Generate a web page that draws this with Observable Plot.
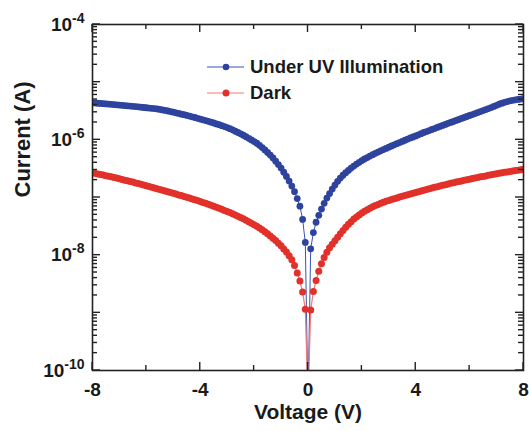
<!DOCTYPE html>
<html>
<head>
<meta charset="utf-8">
<script src="https://cdn.jsdelivr.net/npm/d3@7"></script>
<script src="https://cdn.jsdelivr.net/npm/@observablehq/plot@0.6"></script>
<style>
  html, body { margin: 0; padding: 0; background: #fff; }
  #chart { width: 529px; height: 431px; }
</style>
</head>
<body>
<div id="chart"></div>
<script>
// ---- Data ----
const voltage = [-8.0,-7.9,-7.8,-7.7,-7.6,-7.5,-7.4,-7.3,-7.2,-7.1,-7.0,-6.9,-6.8,-6.7,-6.6,-6.5,-6.4,-6.3,-6.2,-6.1,
  -6.0,-5.9,-5.8,-5.7,-5.6,-5.5,-5.4,-5.3,-5.2,-5.1,-5.0,-4.9,-4.8,-4.7,-4.6,-4.5,-4.4,-4.3,-4.2,-4.1,
  -4.0,-3.9,-3.8,-3.7,-3.6,-3.5,-3.4,-3.3,-3.2,-3.1,-3.0,-2.9,-2.8,-2.7,-2.6,-2.5,-2.4,-2.3,-2.2,-2.1,
  -2.0,-1.9,-1.8,-1.7,-1.6,-1.5,-1.4,-1.3,-1.2,-1.1,-1.0,-0.9,-0.8,-0.7,-0.6,-0.5,-0.4,-0.3,-0.2,-0.1,
  0.0,
  0.1,0.2,0.3,0.4,0.5,0.6,0.7,0.8,0.9,1.0,1.1,1.2,1.3,1.4,1.5,1.6,1.7,1.8,1.9,2.0,
  2.1,2.2,2.3,2.4,2.5,2.6,2.7,2.8,2.9,3.0,3.1,3.2,3.3,3.4,3.5,3.6,3.7,3.8,3.9,4.0,
  4.1,4.2,4.3,4.4,4.5,4.6,4.7,4.8,4.9,5.0,5.1,5.2,5.3,5.4,5.5,5.6,5.7,5.8,5.9,6.0,
  6.1,6.2,6.3,6.4,6.5,6.6,6.7,6.8,6.9,7.0,7.1,7.2,7.3,7.4,7.5,7.6,7.7,7.8,7.9,8.0];

const uvCurrent = [
  4.39e-6,4.35e-6,4.31e-6,4.28e-6,4.24e-6,4.20e-6,4.17e-6,4.13e-6,4.09e-6,4.05e-6,
  4.01e-6,3.96e-6,3.93e-6,3.89e-6,3.85e-6,3.81e-6,3.77e-6,3.73e-6,3.69e-6,3.64e-6,
  3.60e-6,3.56e-6,3.52e-6,3.48e-6,3.43e-6,3.37e-6,3.30e-6,3.23e-6,3.16e-6,3.09e-6,
  3.02e-6,2.94e-6,2.87e-6,2.79e-6,2.73e-6,2.65e-6,2.58e-6,2.51e-6,2.44e-6,2.36e-6,
  2.29e-6,2.22e-6,2.16e-6,2.09e-6,2.02e-6,1.96e-6,1.89e-6,1.83e-6,1.76e-6,1.70e-6,
  1.63e-6,1.56e-6,1.49e-6,1.41e-6,1.34e-6,1.27e-6,1.20e-6,1.13e-6,1.06e-6,9.95e-7,
  9.33e-7,8.72e-7,8.04e-7,7.34e-7,6.69e-7,6.03e-7,5.44e-7,4.85e-7,4.27e-7,3.72e-7,
  3.24e-7,2.75e-7,2.32e-7,1.93e-7,1.58e-7,1.26e-7,9.57e-8,7.08e-8,4.17e-8,1.66e-8,
  3e-11,
  1.29e-8,2.46e-8,3.72e-8,4.90e-8,6.31e-8,7.94e-8,9.77e-8,1.17e-7,1.40e-7,1.64e-7,
  1.91e-7,2.17e-7,2.43e-7,2.69e-7,2.95e-7,3.24e-7,3.51e-7,3.80e-7,4.07e-7,4.37e-7,
  4.65e-7,4.93e-7,5.23e-7,5.52e-7,5.83e-7,6.13e-7,6.45e-7,6.77e-7,7.10e-7,7.45e-7,
  7.82e-7,8.19e-7,8.58e-7,8.98e-7,9.40e-7,9.84e-7,1.03e-6,1.08e-6,1.12e-6,1.17e-6,
  1.22e-6,1.28e-6,1.34e-6,1.39e-6,1.45e-6,1.51e-6,1.57e-6,1.64e-6,1.71e-6,1.78e-6,
  1.85e-6,1.93e-6,2.00e-6,2.08e-6,2.17e-6,2.25e-6,2.35e-6,2.44e-6,2.54e-6,2.64e-6,
  2.74e-6,2.85e-6,2.97e-6,3.09e-6,3.21e-6,3.35e-6,3.49e-6,3.63e-6,3.80e-6,3.96e-6,
  4.15e-6,4.32e-6,4.47e-6,4.61e-6,4.74e-6,4.85e-6,4.95e-6,5.02e-6,5.10e-6,5.16e-6];

const darkCurrent = [
  2.68e-7,2.62e-7,2.56e-7,2.50e-7,2.45e-7,2.39e-7,2.34e-7,2.28e-7,2.22e-7,2.17e-7,
  2.11e-7,2.06e-7,2.00e-7,1.95e-7,1.90e-7,1.85e-7,1.79e-7,1.75e-7,1.70e-7,1.65e-7,
  1.60e-7,1.55e-7,1.51e-7,1.46e-7,1.42e-7,1.38e-7,1.34e-7,1.30e-7,1.26e-7,1.22e-7,
  1.19e-7,1.15e-7,1.11e-7,1.08e-7,1.04e-7,1.01e-7,9.79e-8,9.46e-8,9.14e-8,8.83e-8,
  8.53e-8,8.22e-8,7.92e-8,7.64e-8,7.35e-8,7.06e-8,6.79e-8,6.52e-8,6.25e-8,5.98e-8,
  5.73e-8,5.47e-8,5.23e-8,4.98e-8,4.74e-8,4.50e-8,4.27e-8,4.04e-8,3.81e-8,3.59e-8,
  3.37e-8,3.16e-8,2.95e-8,2.75e-8,2.55e-8,2.35e-8,2.16e-8,1.97e-8,1.79e-8,1.61e-8,
  1.45e-8,1.28e-8,1.13e-8,9.77e-9,8.32e-9,6.61e-9,4.90e-9,3.55e-9,2.29e-9,1.15e-9,
  3e-11,
  1.12e-9,2.35e-9,3.63e-9,5.25e-9,7.08e-9,9.12e-9,1.12e-8,1.34e-8,1.55e-8,1.78e-8,
  2.04e-8,2.36e-8,2.69e-8,3.05e-8,3.42e-8,3.81e-8,4.22e-8,4.61e-8,4.99e-8,5.37e-8,
  5.75e-8,6.14e-8,6.52e-8,6.89e-8,7.24e-8,7.59e-8,7.92e-8,8.26e-8,8.59e-8,8.91e-8,
  9.23e-8,9.53e-8,9.84e-8,1.02e-7,1.05e-7,1.08e-7,1.12e-7,1.15e-7,1.19e-7,1.22e-7,
  1.26e-7,1.30e-7,1.34e-7,1.38e-7,1.42e-7,1.46e-7,1.50e-7,1.54e-7,1.58e-7,1.63e-7,
  1.67e-7,1.72e-7,1.76e-7,1.81e-7,1.85e-7,1.90e-7,1.94e-7,1.99e-7,2.03e-7,2.08e-7,
  2.13e-7,2.18e-7,2.23e-7,2.28e-7,2.32e-7,2.37e-7,2.42e-7,2.47e-7,2.52e-7,2.58e-7,
  2.63e-7,2.68e-7,2.73e-7,2.78e-7,2.83e-7,2.88e-7,2.93e-7,2.98e-7,3.03e-7,3.08e-7];

const seriesNames = ["Under UV Illumination", "Dark"];
const xMajorTicks = [-8, -4, 0, 4, 8];
const xMinorTicks = [-6, -2, 2, 6];
const yMajorTicks = [1e-10, 1e-9, 1e-8, 1e-7, 1e-6, 1e-5, 1e-4];
const yLabelTicks = [1e-10, 1e-8, 1e-6, 1e-4];
const yMinorTicks = yMajorTicks.slice(0, -1).flatMap(d => [2,3,4,5,6,7,8,9].map(m => m * d));

// ---- Layout & styles ----
const W = 529, H = 431;
const M = {left: 92, right: 6, top: 24, bottom: 61};
const ink = "#222";
const blueDot = "#2e439e";
const blueLine = "#3a52b8";
const redDot = "#e2312a";
const redLine = "#f07878";
const font = "'Liberation Sans', Arial, Helvetica, sans-serif";

const table = voltage.map((v, i) => ({v, uv: uvCurrent[i], dark: darkCurrent[i]}));

const svg = Plot.plot({
  width: W,
  height: H,
  marginLeft: M.left,
  marginRight: M.right,
  marginTop: M.top,
  marginBottom: M.bottom,
  style: {fontFamily: font, fontWeight: "bold", color: "#1a1a1a", background: "#fff", overflow: "visible"},
  x: {domain: [-8, 8], label: null},
  y: {type: "log", domain: [1e-10, 1e-4], label: null},
  marks: [
    Plot.line(table, {x: "v", y: "uv", stroke: blueLine, strokeWidth: 1, clip: true}),
    Plot.dot(table, {x: "v", y: "uv", r: 3.4, fill: blueDot, clip: true}),
    Plot.line(table, {x: "v", y: "dark", stroke: redLine, strokeWidth: 1.2, clip: true}),
    Plot.dot(table, {x: "v", y: "dark", r: 3.5, fill: redDot, clip: true}),
    Plot.frame({stroke: ink, strokeWidth: 1.6}),
    Plot.axisX(xMajorTicks, {tickSize: 0, tickPadding: 12, fontSize: 19, fontWeight: "bold", tickFormat: d => String(d), label: null}),
    Plot.axisY(yLabelTicks, {tickSize: 0, tickPadding: 8, fontSize: 19, fontWeight: "bold", tickFormat: d => "10^" + Math.round(Math.log10(d)), label: null}),
    Plot.text(["Current (A)"], {text: d => d, frameAnchor: "left", dx: -70, rotate: -90, fontSize: 22, fontWeight: "bold", fill: "#1a1a1a"}),
    Plot.text(["Voltage (V)"], {text: d => d, frameAnchor: "bottom", dy: 48, fontSize: 21, fontWeight: "bold", fill: "#1a1a1a"})
  ]
});

const NS = "http://www.w3.org/2000/svg";

// Superscript exponents on the y tick labels
svg.querySelectorAll('g[aria-label="y-axis tick label"] text').forEach(t => {
  const s = t.textContent;
  if (!s.includes("^")) return;
  const [base, exp] = s.split("^");
  t.textContent = base;
  const ts = document.createElementNS(NS, "tspan");
  ts.setAttribute("dy", "-8");
  ts.setAttribute("font-size", "14");
  ts.textContent = exp;
  t.appendChild(ts);
});

// Inward ticks on all four sides, placed with the plot's own scales
const sx = svg.scale("x"), sy = svg.scale("y");
const x0 = M.left, x1 = W - M.right, y0 = M.top, y1 = H - M.bottom;
const tg = d3.select(svg).append("g").attr("stroke", ink).attr("stroke-width", 1.4).attr("fill", "none");
const addX = (vals, len) => vals.forEach(v => {
  const px = sx.apply(v);
  tg.append("line").attr("x1", px).attr("x2", px).attr("y1", y1).attr("y2", y1 - len);
  tg.append("line").attr("x1", px).attr("x2", px).attr("y1", y0).attr("y2", y0 + len);
});
const addY = (vals, len) => vals.forEach(v => {
  const py = sy.apply(v);
  tg.append("line").attr("y1", py).attr("y2", py).attr("x1", x0).attr("x2", x0 + len);
  tg.append("line").attr("y1", py).attr("y2", py).attr("x1", x1).attr("x2", x1 - len);
});
addX(xMajorTicks, 8);
addX(xMinorTicks, 5);
addY(yMajorTicks, 8);
addY(yMinorTicks, 5);

// Legend inside the plot area
const leg = d3.select(svg).append("g")
  .attr("font-family", font).attr("font-weight", "bold").attr("font-size", 18.5)
  .attr("fill", "#1a1a1a").attr("text-anchor", "start");
const legendRows = [
  {name: seriesNames[0], line: blueLine, dot: blueDot, y: 67, r: 3.3},
  {name: seriesNames[1], line: redLine, dot: redDot, y: 93, r: 3.5}
];
legendRows.forEach(row => {
  leg.append("line").attr("x1", 207).attr("x2", 244).attr("y1", row.y).attr("y2", row.y)
    .attr("stroke", row.line).attr("stroke-width", 1.2);
  leg.append("circle").attr("cx", 226).attr("cy", row.y).attr("r", row.r).attr("fill", row.dot);
  leg.append("text").attr("x", 250).attr("y", row.y).attr("dy", "0.35em").attr("text-anchor", "start").text(row.name);
});

document.getElementById("chart").appendChild(svg);
</script>
</body>
</html>
